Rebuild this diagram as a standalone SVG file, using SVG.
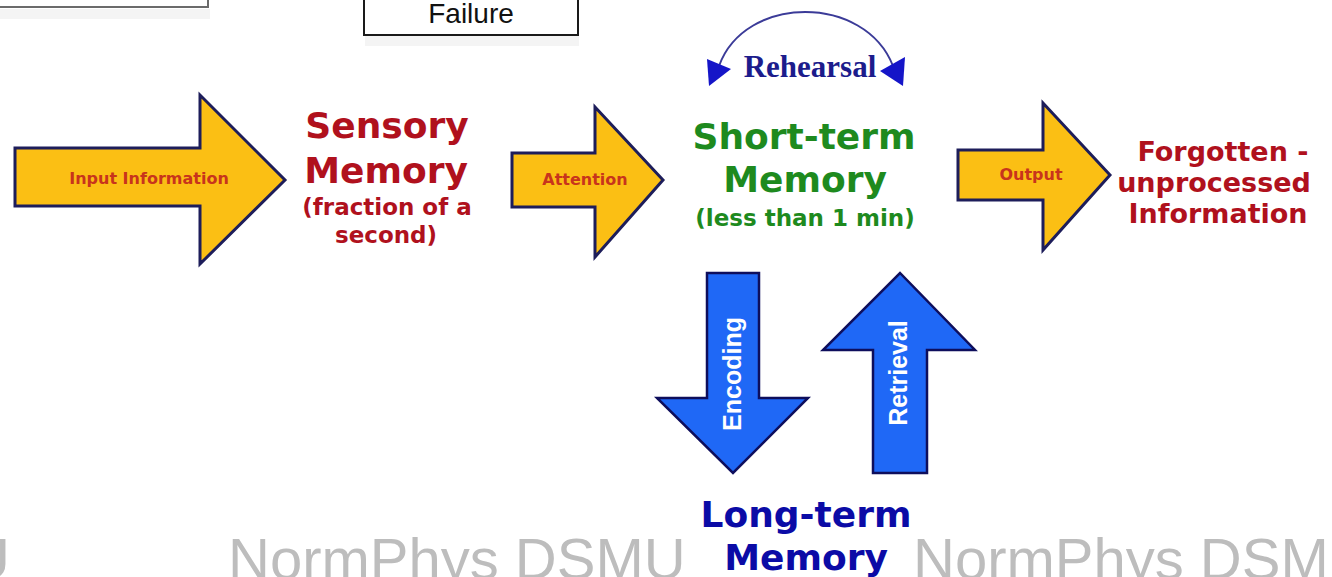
<svg xmlns="http://www.w3.org/2000/svg" width="1332" height="577" viewBox="0 0 1332 577">
  <style>
    .bg { fill: #ffffff; }
    .box { fill: #ffffff; stroke: #1a1a1a; stroke-width: 2; }
    .boxgrey { fill: #ffffff; stroke: #6b6b6b; stroke-width: 2; }
    .shadow { fill: #f4f4f4; }
    .yellow { fill: #fbbf14; stroke: #1d1d5a; stroke-width: 3; stroke-linejoin: miter; }
    .blue { fill: #1f68f6; stroke: #0e0e5c; stroke-width: 2.5; stroke-linejoin: miter; }
    .lbl { font-family: "DejaVu Sans", Verdana, sans-serif; font-weight: bold; text-anchor: middle; }
    .arrowlbl { font-family: "DejaVu Sans", Verdana, sans-serif; font-weight: bold; text-anchor: middle; fill: #c8341c; font-size: 16px; dominant-baseline: central; }
    .vlbl { font-family: "Liberation Sans", Arial, sans-serif; font-weight: bold; text-anchor: middle; fill: #ffffff; font-size: 25px; }
    .red { fill: #b0111d; }
    .green { fill: #1e8a1e; }
    .navy { fill: #0b0ba6; }
    .wm { font-family: "Liberation Sans", Arial, sans-serif; font-size: 58px; fill: #bdbdbd; }
  </style>

  <rect class="bg" x="0" y="0" width="1332" height="577"/>

  <!-- watermark, running off the bottom edge -->
  <g id="watermark">
    <text class="wm" x="10" y="579" text-anchor="end">NormPhys DSMU</text>
    <text class="wm" x="228" y="579">NormPhys DSMU</text>
    <text class="wm" x="913" y="579">NormPhys DSMU</text>
  </g>

  <!-- boxes at the top edge -->
  <g id="box-topleft">
    <rect class="shadow" x="0" y="9" width="210" height="10"/>
    <rect class="boxgrey" x="-4" y="-20" width="212" height="27"/>
  </g>
  <g id="box-failure">
    <rect class="shadow" x="365" y="36" width="214" height="10"/>
    <rect class="box" x="364" y="-20" width="214" height="55"/>
    <text x="471" y="23" font-family="'Liberation Sans', Arial, sans-serif" font-size="28" fill="#111" text-anchor="middle">Failure</text>
  </g>

  <!-- flow arrows -->
  <g id="connectors">
    <g id="arrow-input">
      <polygon class="yellow" points="15,148 200,148 200,95 285,180 200,264 200,206 15,206"/>
      <text class="arrowlbl" x="149" y="178" font-size="17">Input Information</text>
    </g>
    <g id="arrow-attention">
      <polygon class="yellow" points="512,153 595,153 595,107 663,180 595,257 595,207 512,207"/>
      <text class="arrowlbl" x="585" y="179" font-size="17">Attention</text>
    </g>
    <g id="arrow-output">
      <polygon class="yellow" points="958,150 1043,150 1043,103 1110,175 1043,250 1043,200 958,200"/>
      <text class="arrowlbl" x="1031" y="174" font-size="18">Output</text>
    </g>
    <g id="arrow-encoding">
      <polygon class="blue" points="707,273 759,273 759,398 808,398 733,473 657,398 707,398"/>
      <text class="vlbl" transform="translate(741,374) rotate(-90)">Encoding</text>
    </g>
    <g id="arrow-retrieval">
      <polygon class="blue" points="873,473 927,473 927,350 975,350 900,273 823,350 873,350"/>
      <text class="vlbl" transform="translate(907,373) rotate(-90)">Retrieval</text>
    </g>
    <g id="arc-rehearsal">
      <path d="M719,66 C745,-6 865,-6 893,66" fill="none" stroke="#3b3b98" stroke-width="2"/>
      <polygon points="707,59 731,69 709,86" fill="#1515c8"/>
      <polygon points="880,71 905,57 903,86" fill="#1515c8"/>
      <text x="810" y="77" font-family="'Liberation Serif', 'Times New Roman', serif" font-weight="bold" font-size="31" fill="#1c1c8c" text-anchor="middle">Rehearsal</text>
    </g>
  </g>

  <!-- memory stores -->
  <g id="node-sensory">
    <text class="lbl red" x="387" y="138" font-size="36">Sensory</text>
    <text class="lbl red" x="386" y="183" font-size="36">Memory</text>
    <text class="lbl red" x="387" y="215" font-size="23">(fraction of a</text>
    <text class="lbl red" x="386" y="243" font-size="23">second)</text>
  </g>

  <g id="node-shortterm">
    <text class="lbl green" x="804" y="149" font-size="36">Short-term</text>
    <text class="lbl green" x="805" y="192" font-size="36">Memory</text>
    <text class="lbl green" x="805" y="226" font-size="23">(less than 1 min)</text>
  </g>

  <g id="node-forgotten">
    <text class="lbl red" x="1223" y="161" font-size="27">Forgotten -</text>
    <text class="lbl red" x="1214" y="192" font-size="27">unprocessed</text>
    <text class="lbl red" x="1218" y="223" font-size="27">Information</text>
  </g>

  <g id="node-longterm">
    <text class="lbl navy" x="806" y="527" font-size="36">Long-term</text>
    <text class="lbl navy" x="806" y="570" font-size="36">Memory</text>
  </g>
</svg>
